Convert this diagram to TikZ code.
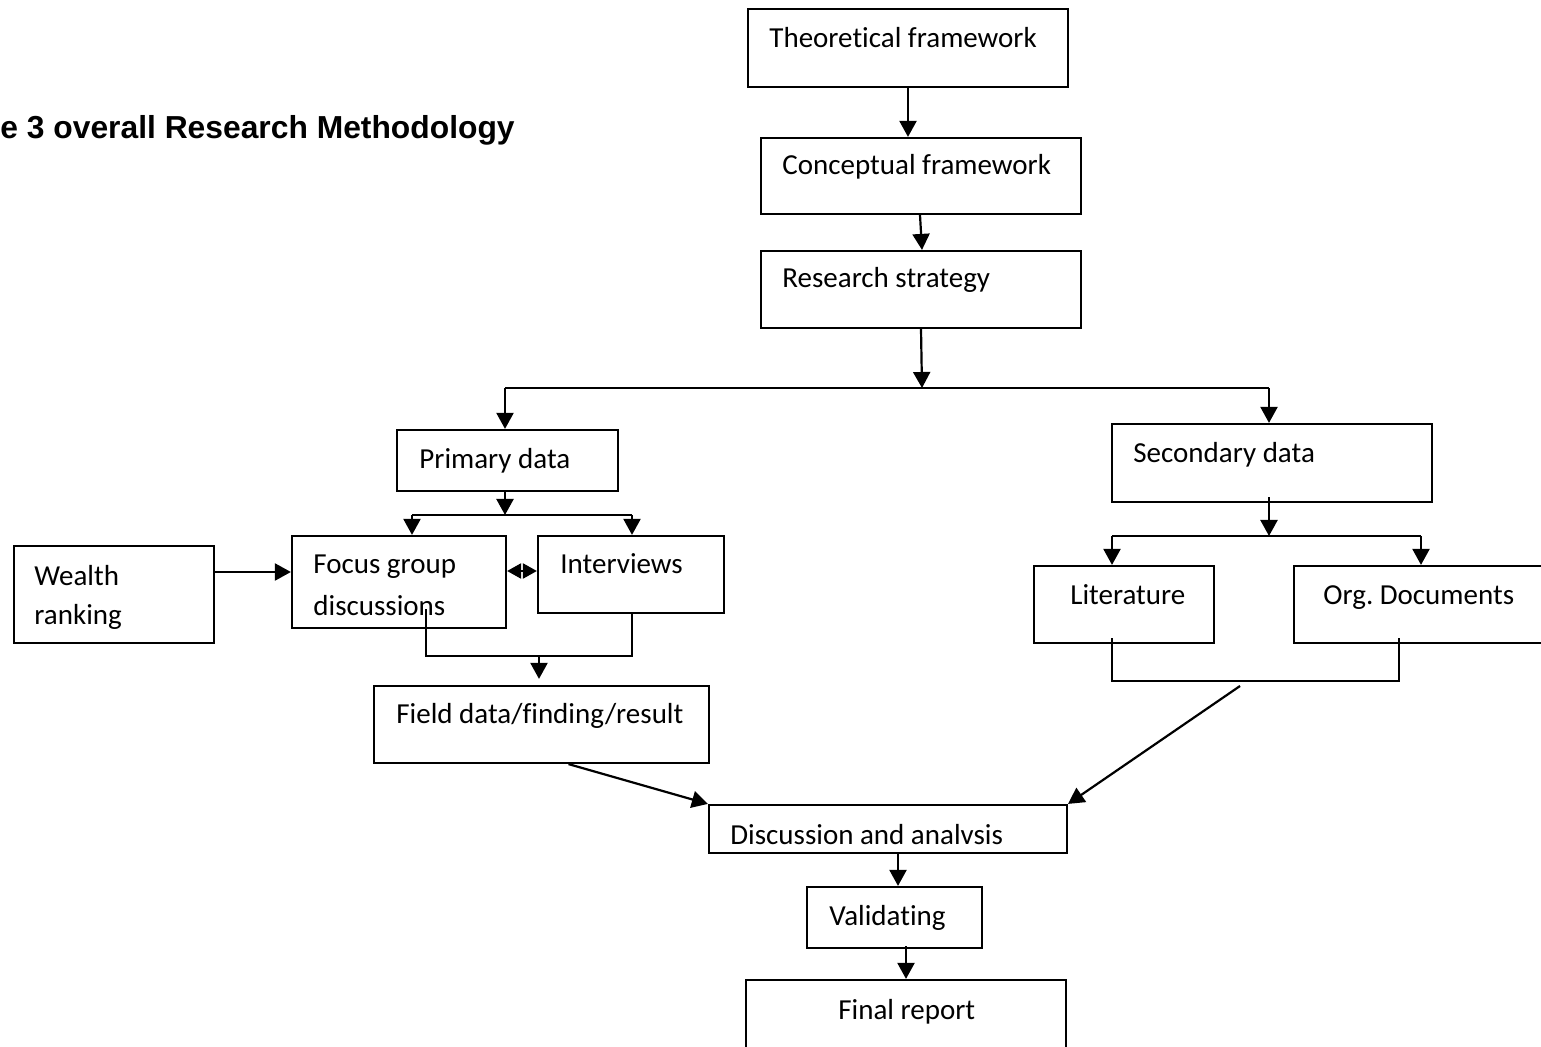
\documentclass[tikz,border=0pt]{standalone}
\usepackage{fontspec}
\setmainfont{Carlito}[Ligatures=NoCommon]
\newfontfamily\titlefont{Liberation Sans}
\usetikzlibrary{arrows.meta,calc}
\frenchspacing
\newcommand\mkbox[5]{%
  \node[boxst, minimum width={(#4-#2)*0.5pt}, minimum height={(#5-#3)*0.5pt}]
    (#1) at ({(#2+#4)/2},{(#3+#5)/2}) {};}
\begin{document}
\begin{tikzpicture}[x=0.5pt,y=-0.5pt,
  boxst/.style={draw, line width=1.1pt, inner sep=0pt, rectangle},
  txt/.style={inner sep=0pt, anchor=base west, font=\fontsize{14.5}{17}\selectfont},
  arr/.style={line width=1.1pt, -{Triangle[length=8pt,width=8.5pt]}},
  dblarr/.style={line width=1.1pt, {Triangle[length=7pt,width=7.5pt]}-{Triangle[length=7pt,width=7.5pt]}},
  ln/.style={line width=1pt}]
\useasboundingbox (0,0) rectangle (1541,1047);
\clip (0,0) rectangle (1541,1047);

% title
\node[inner sep=0pt, anchor=base west, font=\titlefont\bfseries\fontsize{15.9}{19}\selectfont] (title) at (0,139) {e 3 overall Research Methodology};

% boxes
\mkbox{tf}{748}{9}{1068}{87}
\mkbox{cf}{761}{138}{1081}{214}
\mkbox{rs}{761}{251}{1081}{328}
\mkbox{pd}{397}{430}{618}{491}
\mkbox{fg}{292}{536}{506}{628}
\mkbox{iv}{538}{536}{724}{613}
\mkbox{wr}{14}{546}{214}{643}
\mkbox{fd}{374}{686}{709}{763}
\mkbox{sd}{1112}{424}{1432}{502}
\mkbox{lit}{1034}{566}{1214}{643}
\mkbox{od}{1294}{566}{1570}{643}
\mkbox{dis}{709}{805}{1067}{853}
\mkbox{val}{807}{887}{982}{948}
\mkbox{fin}{746}{980}{1066}{1080}

% texts
\node[txt] (tft) at (769,48) {Theoretical framework};
\node[txt] (cft) at (782,175) {Conceptual framework};
\node[txt] (rst) at (782,288) {Research strategy};
\node[txt] (pdt) at (419,469) {Primary data};
\node[txt] (fgt1) at (313,574) {Focus group};
\node[txt] (fgt2) at (313,615) {discussions};
\node[txt] (ivt) at (560,574) {Interviews};
\node[txt] (wrt1) at (34,585) {Wealth};
\node[txt] (wrt2) at (34,624) {ranking};
\node[txt] (fdt) at (396,723) {Field data/finding/result};
\node[txt] (sdt) at (1133,463) {Secondary data};
\node[txt] (litt) at (1070,604) {Literature};
\node[txt] (odt) at (1323,604) {Org. Documents};
\node[txt] (dist) at (730,844) {Discussion and analvsis};
\node[txt] (valt) at (829,925) {Validating};
\node[txt] (fint) at (838,1019) {Final report};

% helper coordinates
\coordinate (sp) at (922,388);
\coordinate (spl) at (505,388);
\coordinate (spr) at (1269,388);
\coordinate (p2) at (505,515);
\coordinate (p2l) at (412,515);
\coordinate (p2r) at (632,515);
\coordinate (wa) at (0,572);
\coordinate (da) at (0,571);
\coordinate (m1) at (426,656);
\coordinate (m2) at (632,656);
\coordinate (mid) at (539,656);
\coordinate (s2) at (1269,536);
\coordinate (s2l) at (1112,536);
\coordinate (s2r) at (1421,536);
\coordinate (n1) at (1112,681);
\coordinate (n2) at (1399,681);
\coordinate (dg) at (1240,686);
\coordinate (dv) at (898,0);

% connectors
\draw[arr] (tf.south) -- (tf.south |- cf.north);
\draw[arr] ([xshift=-0.5pt]cf.south) -- ([xshift=0.5pt]rs.north);
\draw[arr] (rs.south) -- (sp);
\draw[ln] (spl) -- (spr);
\draw[arr] (spl) -- (spl |- pd.north);
\draw[arr] (spr) -- (spr |- sd.north);

\draw[arr] (p2 |- pd.south) -- (p2);
\draw[ln] (p2l) -- (p2r);
\draw[arr] (p2l) -- (p2l |- fg.north);
\draw[arr] (p2r) -- (p2r |- iv.north);

\draw[arr] (wr.east |- wa) -- (fg.west |- wa);
\draw[dblarr] (fg.east |- da) -- (iv.west |- da);

\draw[ln] ($(m1 |- fg.south)+(0,-20)$) -- (m1) -- (m2) -- (m2 |- iv.south);
\draw[arr] (mid) -- ($(mid |- fd.north)+(0,-6)$);

\draw[arr] ($(s2 |- sd.south)+(0,-6)$) -- (s2);
\draw[ln] (s2l) -- (s2r);
\draw[arr] (s2l) -- (s2l |- lit.north);
\draw[arr] (s2r) -- (s2r |- od.north);

\draw[ln] ($(n1 |- lit.south)+(0,-6)$) -- (n1) -- (n2) -- ($(n2 |- od.south)+(0,-6)$);
\draw[arr] (dg) -- (dis.north east);
\draw[arr] ($(fd.south)+(27,0)$) -- (dis.north west);

\draw[arr] (dv |- dis.south) -- (dv |- val.north);
\draw[arr] ($(fin.north |- val.south)+(0,-3)$) -- (fin.north);
\end{tikzpicture}
\end{document}
